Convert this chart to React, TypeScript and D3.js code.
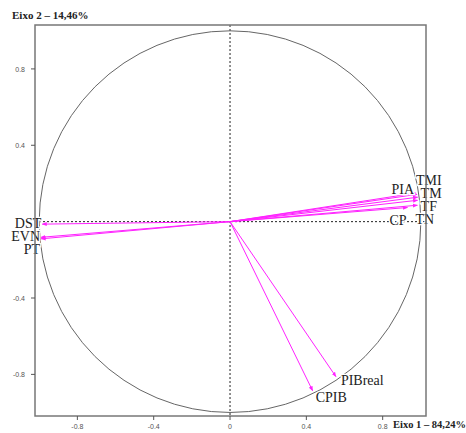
import React from "react";
import * as d3 from "d3";

const variables = ["PIA", "TMI", "TM", "TF", "TN", "CP", "DST", "EVN", "PT", "PIBreal", "CPIB"];
const axis1 = [0.975, 0.98, 0.983, 0.983, 0.982, 0.93, -0.984, -0.99, -0.99, 0.555, 0.433];
const axis2 = [0.150, 0.143, 0.128, 0.112, 0.086, 0.074, -0.013, -0.082, -0.09, -0.812, -0.886];
const xTicks = [-0.8, -0.4, 0, 0.4, 0.8];
const yTicks = [0.8, 0.4, -0.4, -0.8];
const xTitle = "Eixo 1 – 84,24%";
const yTitle = "Eixo 2 – 14,46%";

const labelOffsets: Record<string, [number, number, string]> = {
  PIA: [-2, 1, "end"],
  TMI: [-1, -9, "start"],
  TM: [3, 1, "start"],
  TF: [3, 11, "start"],
  TN: [-2, 19, "start"],
  CP: [-18, 17, "start"],
  DST: [-1, 4, "end"],
  EVN: [-1, 4, "end"],
  PT: [-1, 15, "end"],
  PIBreal: [5, 8, "start"],
  CPIB: [3, 11, "start"],
};

export default function App() {
  const W = 466, H = 433;
  const left = 35, right = 426, top = 25, bottom = 416;
  const x = d3.scaleLinear().domain([-1.022, 1.027]).range([left, right]);
  const y = d3.scaleLinear().domain([-1.018, 1.03]).range([bottom, top]);
  const cx = x(0), cy = y(0);
  const r = x(1) - x(0);
  const magenta = "#ff22ff";

  return (
    <svg width={W} height={H} style={{ position: "absolute", left: 0, top: 0 }}>
      <defs>
        <marker id="arr" viewBox="0 0 10 10" refX="9" refY="5" markerWidth="5" markerHeight="5" orient="auto">
          <path d="M0,1 L10,5 L0,9 z" fill={magenta} />
        </marker>
      </defs>
      <rect x={0} y={0} width={W} height={H} fill="white" />
      <line x1={cx} x2={cx} y1={top} y2={bottom} stroke="#222" strokeWidth={1} strokeDasharray="2,2" />
      <line x1={left} x2={right} y1={cy} y2={cy} stroke="#222" strokeWidth={1} strokeDasharray="2,2" />
      <circle cx={cx} cy={cy} r={r} fill="none" stroke="#666" strokeWidth={1} />
      {variables.map((v, i) => (
        <line key={v} x1={cx} y1={cy} x2={x(axis1[i])} y2={y(axis2[i])} stroke={magenta} strokeWidth={1} markerEnd="url(#arr)" />
      ))}
      {variables.map((v, i) => {
        const [dx, dy, anchor] = labelOffsets[v];
        return (
          <text key={v} x={x(axis1[i]) + dx} y={y(axis2[i]) + dy} textAnchor={anchor as any}
            fontFamily="Liberation Serif, Times New Roman, serif" fontSize={14} fill="#222"
            stroke="white" strokeWidth={2.5} paintOrder="stroke">{v}</text>
        );
      })}
      <rect x={left} y={top} width={right - left} height={bottom - top} fill="none" stroke="#777" strokeWidth={1.5} />
      {xTicks.map((t) => (
        <g key={"x" + t}>
          <line x1={x(t)} x2={x(t)} y1={bottom} y2={bottom + 4} stroke="#555" />
          <text x={x(t)} y={bottom + 13} textAnchor="middle" fontFamily="Liberation Sans, Arial, sans-serif" fontSize={7} fill="#555">{String(t)}</text>
        </g>
      ))}
      {yTicks.map((t) => (
        <g key={"y" + t}>
          <line x1={left - 4} x2={left} y1={y(t)} y2={y(t)} stroke="#555" />
          <text x={left - 10} y={y(t) + 3} textAnchor="end" fontFamily="Liberation Sans, Arial, sans-serif" fontSize={7} fill="#555">{String(t)}</text>
        </g>
      ))}
      <text x={12} y={19} fontFamily="Liberation Serif, Times New Roman, serif" fontWeight="bold" fontSize={11} fill="#222">{yTitle}</text>
      <text x={393} y={428} fontFamily="Liberation Serif, Times New Roman, serif" fontWeight="bold" fontSize={10.5} fill="#222">{xTitle}</text>
    </svg>
  );
}
